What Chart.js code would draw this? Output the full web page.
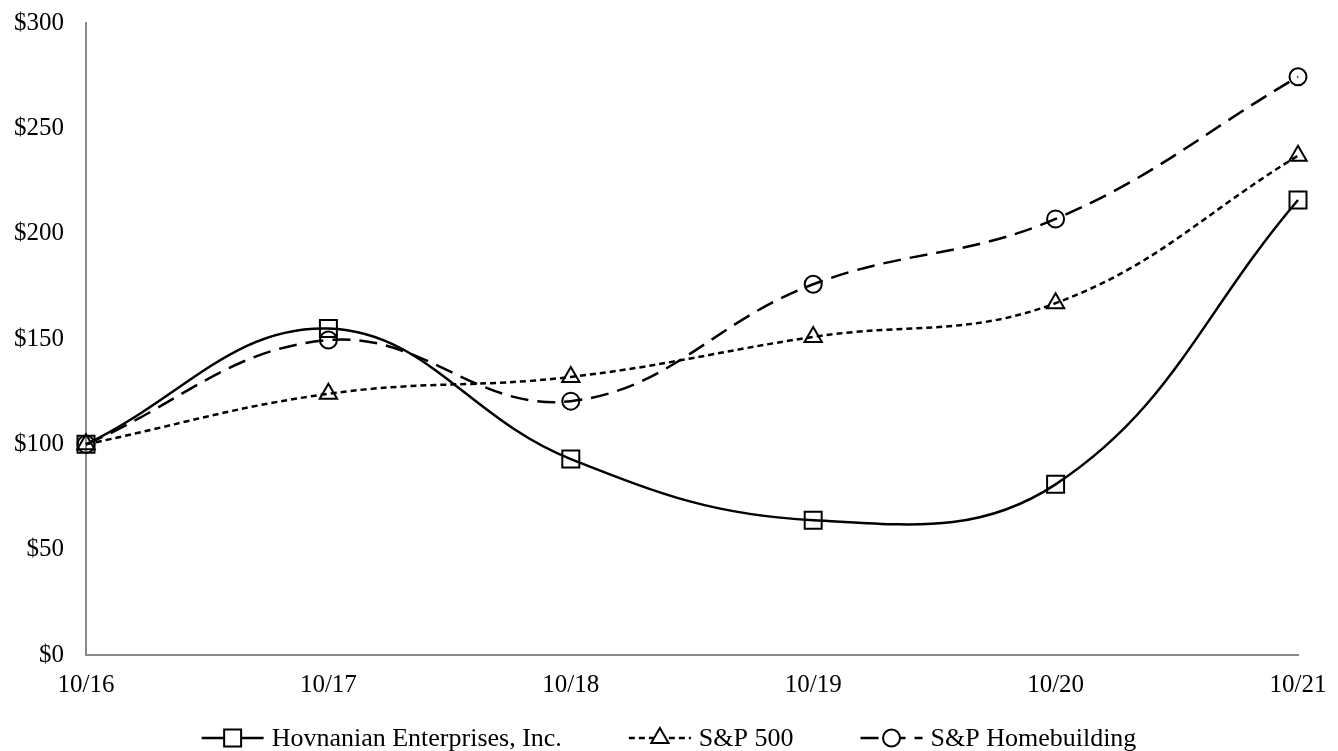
<!DOCTYPE html>
<html>
<head>
<meta charset="utf-8">
<script src="https://cdn.jsdelivr.net/npm/chart.js@4/dist/chart.umd.min.js"></script>
<style>
  html, body { margin: 0; padding: 0; background: #fff; }
  #wrap { width: 1338px; height: 751px; }
</style>
</head>
<body>
<div id="wrap"><canvas id="chart"></canvas></div>
<script>
// years (fiscal year end Oct)
const labels = ['10/16', '10/17', '10/18', '10/19', '10/20', '10/21']

// cumulative total return, $100 invested
const hovnanian = [100, 155, 93, 64, 81, 216]
const sp500 = [100, 124, 132, 151, 167, 237]
const homebuilding = [100, 149.5, 120.5, 176, 207, 274.5]

const yTicks = [0, 50, 100, 150, 200, 250, 300]

const serif = '"Liberation Serif", "Times New Roman", serif'

// legend drawn by hand so each entry shows line + marker like the original
const lineLegend = {
    id: 'lineLegend',
    afterDraw(chart) {
        const ctx = chart.ctx
        const sets = chart.data.datasets
        const symW = 62, symGap = 8, itemGap = 67
        ctx.save()
        ctx.font = '26px ' + serif
        const widths = sets.map(ds => symW + symGap + ctx.measureText(ds.label).width)
        const total = widths.reduce((a, b) => a + b, 0) + itemGap * (sets.length - 1)
        let x = (chart.width - total) / 2
        const y = 738
        sets.forEach((ds, i) => {
            ctx.strokeStyle = '#000'
            ctx.lineWidth = ds.borderWidth
            ctx.setLineDash(ds.borderDash || [])
            ctx.beginPath()
            ctx.moveTo(x, y)
            ctx.lineTo(x + symW, y)
            ctx.stroke()
            ctx.setLineDash([])
            ctx.fillStyle = '#fff'
            ctx.lineWidth = ds.pointBorderWidth
            Chart.helpers.drawPoint(ctx, {
                pointStyle: ds.pointStyle,
                radius: ds.pointRadius,
                rotation: 0,
                borderWidth: ds.pointBorderWidth
            }, x + symW / 2, y)
            ctx.fillStyle = '#000'
            ctx.textAlign = 'left'
            ctx.textBaseline = 'middle'
            ctx.fillText(ds.label, x + symW + symGap, y + 1)
            x += widths[i] + itemGap
        })
        ctx.restore()
    }
}

const common = {
    borderColor: '#000',
    borderWidth: 2.5,
    pointBorderColor: '#000',
    pointBackgroundColor: 'rgba(0,0,0,0)',
    pointBorderWidth: 2,
    tension: 0.4,
    clip: false,
    fill: false
}

const data = {
    labels: labels,
    datasets: [
        { ...common, label: 'Hovnanian Enterprises, Inc.', data: hovnanian, pointStyle: 'rect', pointRadius: 12 },
        { ...common, label: 'S&P 500', data: sp500, pointStyle: 'triangle', pointRadius: 10, borderDash: [6, 4] },
        { ...common, label: 'S&P Homebuilding', data: homebuilding, pointStyle: 'circle', pointRadius: 8.5, borderDash: [18, 9] }
    ]
}

new Chart(document.getElementById('chart'), {
    type: 'line',
    data: data,
    options: {
        responsive: true,
        maintainAspectRatio: false,
        animation: false,
        layout: { padding: { left: 0, right: 40, top: 23, bottom: 0 } },
        plugins: {
            legend: { display: false },
            tooltip: { enabled: false }
        },
        scales: {
            x: {
                offset: false,
                grid: { display: false, drawTicks: false },
                border: { display: true, color: '#898989', width: 2 },
                ticks: { color: '#000', font: { family: serif, size: 25 }, padding: 15, maxRotation: 0, autoSkip: false },
                afterFit: s => { s.height = 96; s.paddingLeft = 0; s.paddingRight = 0 }
            },
            y: {
                min: 0,
                max: 300,
                grid: { display: false, drawTicks: false },
                border: { display: true, color: '#898989', width: 2 },
                ticks: {
                    stepSize: 50,
                    color: '#000',
                    font: { family: serif, size: 25 },
                    padding: 22,
                    callback: v => yTicks.includes(v) ? '$' + v : ''
                },
                afterFit: s => { s.width = 86; s.paddingTop = 0; s.paddingBottom = 0 }
            }
        }
    },
    plugins: [lineLegend]
})
</script>
</body>
</html>
